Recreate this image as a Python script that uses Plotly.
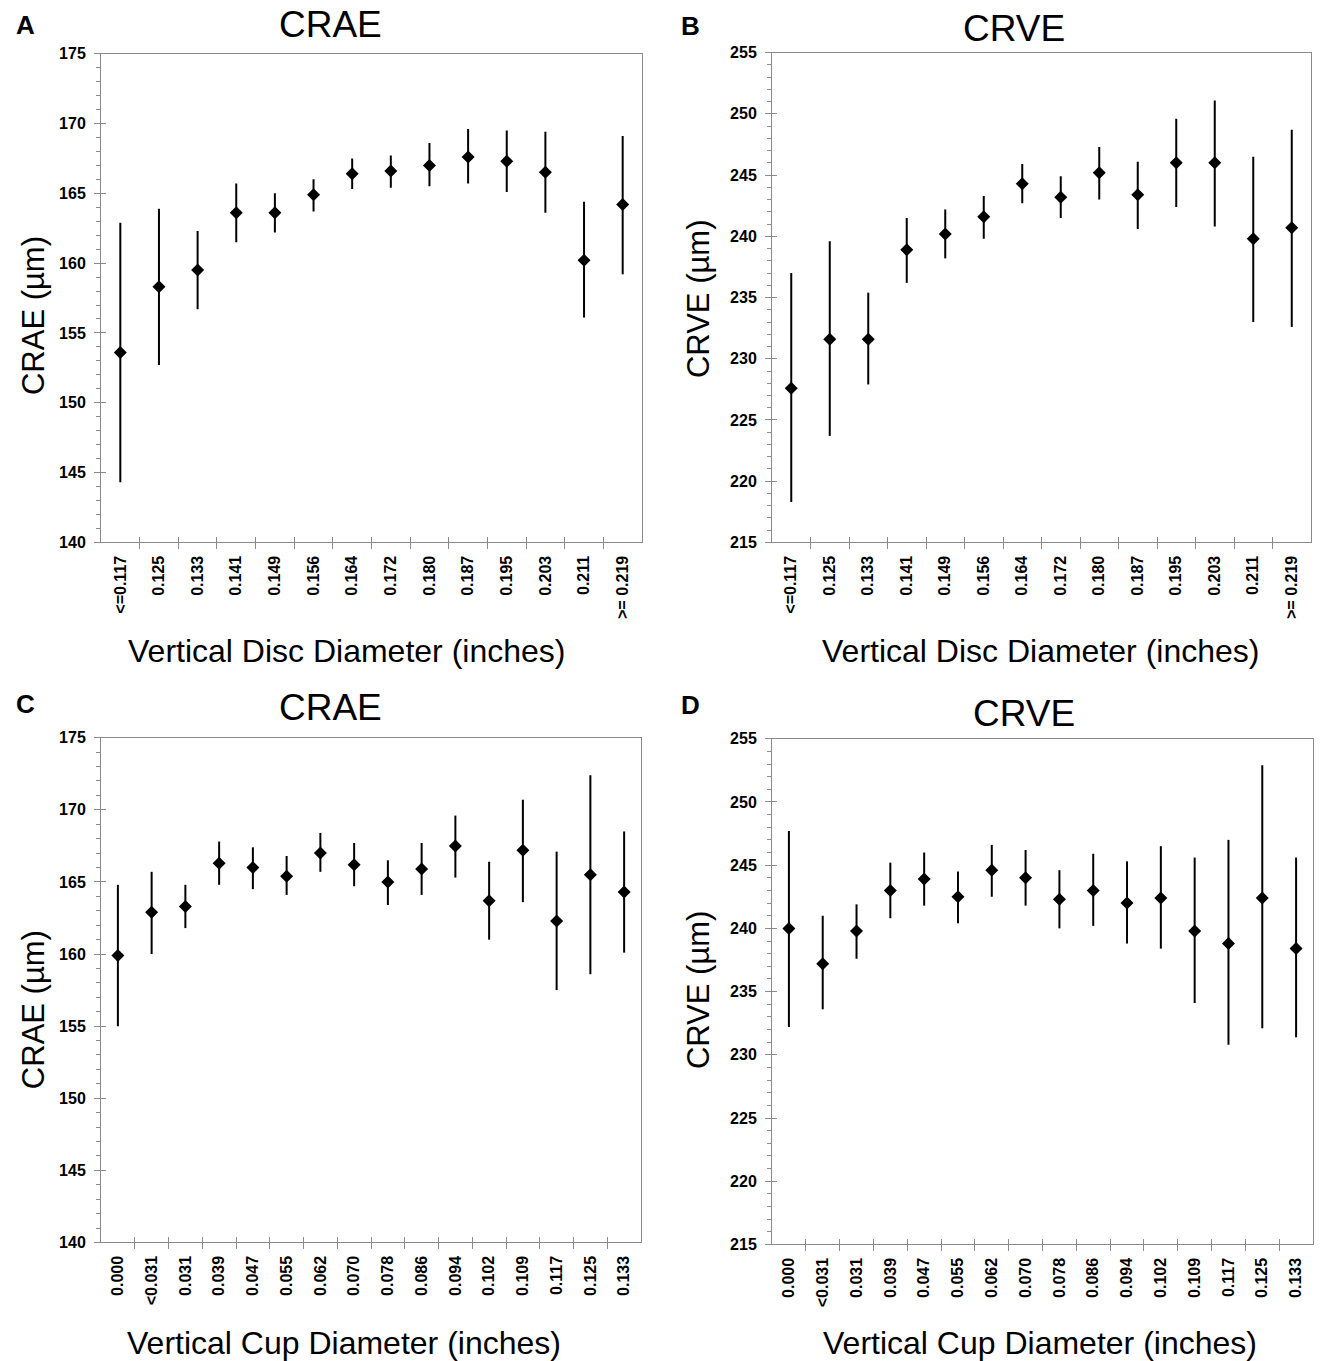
import plotly.graph_objects as go

# ---------------- data ----------------
disc_labels = ["<=0.117", "0.125", "0.133", "0.141", "0.149", "0.156", "0.164",
               "0.172", "0.180", "0.187", "0.195", "0.203", "0.211", ">= 0.219"]
cup_labels = ["0.000", "<0.031", "0.031", "0.039", "0.047", "0.055", "0.062", "0.070",
              "0.078", "0.086", "0.094", "0.102", "0.109", "0.117", "0.125", "0.133"]

# Panel A: CRAE vs vertical disc diameter
crae_disc_mean = [153.6, 158.3, 159.5, 163.6, 163.6, 164.9, 166.4, 166.6, 167.0, 167.6, 167.3, 166.5, 160.2, 164.2]
crae_disc_low = [144.3, 152.7, 156.7, 161.5, 162.2, 163.7, 165.3, 165.4, 165.5, 165.7, 165.1, 163.6, 156.1, 159.2]
crae_disc_high = [162.9, 163.9, 162.3, 165.7, 165.0, 166.0, 167.5, 167.7, 168.6, 169.6, 169.5, 169.4, 164.4, 169.1]

# Panel B: CRVE vs vertical disc diameter
crve_disc_mean = [227.6, 231.6, 231.6, 238.9, 240.2, 241.6, 244.3, 243.2, 245.2, 243.4, 246.0, 246.0, 239.8, 240.7]
crve_disc_low = [218.3, 223.7, 227.9, 236.2, 238.2, 239.8, 242.7, 241.5, 243.0, 240.6, 242.4, 240.8, 233.0, 232.6]
crve_disc_high = [237.0, 239.6, 235.4, 241.5, 242.2, 243.3, 245.9, 244.9, 247.3, 246.1, 249.6, 251.1, 246.5, 248.7]

# Panel C: CRAE vs vertical cup diameter
crae_cup_mean = [159.9, 162.9, 163.3, 166.3, 166.0, 165.4, 167.0, 166.2, 165.0, 165.9, 167.5, 163.7, 167.2, 162.3, 165.5, 164.3]
crae_cup_low = [155.0, 160.0, 161.8, 164.8, 164.5, 164.1, 165.7, 164.7, 163.4, 164.1, 165.3, 161.0, 163.6, 157.5, 158.6, 160.1]
crae_cup_high = [164.8, 165.7, 164.8, 167.8, 167.4, 166.8, 168.4, 167.7, 166.5, 167.7, 169.6, 166.4, 170.7, 167.1, 172.4, 168.5]

# Panel D: CRVE vs vertical cup diameter
crve_cup_mean = [240.0, 237.2, 239.8, 243.0, 243.9, 242.5, 244.6, 244.0, 242.3, 243.0, 242.0, 242.4, 239.8, 238.8, 242.4, 238.4]
crve_cup_low = [232.2, 233.6, 237.6, 240.8, 241.8, 240.4, 242.5, 241.8, 240.0, 240.2, 238.8, 238.4, 234.1, 230.8, 232.1, 231.4]
crve_cup_high = [247.7, 241.0, 241.9, 245.2, 246.0, 244.5, 246.6, 246.2, 244.6, 245.9, 245.3, 246.5, 245.6, 247.0, 252.9, 245.6]

crae_ticks = [140, 145, 150, 155, 160, 165, 170, 175]
crve_ticks = [215, 220, 225, 230, 235, 240, 245, 250, 255]

# ---------------- layout helpers ----------------
W, H = 1324, 1361
FONT = "Liberation Sans, Arial, Helvetica, sans-serif"
GREY = "#8a8a8a"


def fx(p):
    return p / W


def fy(p):
    # map a target page row to paper coordinates (compensates page offset)
    return 1 - ((p - 9.4) / 0.986) / H


panels = [
    # (labels, mean, low, high, yrange, yticks, pixel box (l, t, r, b))
    (disc_labels, crae_disc_mean, crae_disc_low, crae_disc_high, [140, 175], crae_ticks, (101, 55, 642, 543)),
    (disc_labels, crve_disc_mean, crve_disc_low, crve_disc_high, [215, 255], crve_ticks, (772, 54, 1311, 543)),
    (cup_labels, crae_cup_mean, crae_cup_low, crae_cup_high, [140, 175], crae_ticks, (101, 738, 641, 1242)),
    (cup_labels, crve_cup_mean, crve_cup_low, crve_cup_high, [215, 255], crve_ticks, (772, 739, 1313, 1244)),
]

fig = go.Figure()
layout = dict(
    width=W, height=H,
    margin=dict(l=0, r=0, t=0, b=0),
    paper_bgcolor="white", plot_bgcolor="white",
    showlegend=False,
    font=dict(family=FONT, color="black"),
)

for i, (labels, mean, low, high, yr, yt, box) in enumerate(panels):
    k = i + 1
    ko = i + 5
    n = len(labels)
    xs = list(range(n))
    bounds = [j + 0.5 for j in range(n - 1)]
    l, t, r, b = box
    xdom = [fx(l), fx(r)]
    ydom = [fy(b), fy(t)]
    xr = [-0.5, n - 0.5]

    fig.add_trace(go.Scatter(
        x=xs, y=mean, mode="markers",
        marker=dict(symbol="diamond", size=10, color="black"),
        error_y=dict(type="data", symmetric=False,
                     array=[h - m for h, m in zip(high, mean)],
                     arrayminus=[m - lo for m, lo in zip(mean, low)],
                     color="black", thickness=2, width=0),
        xaxis=f"x{k}", yaxis=f"y{k}", hoverinfo="skip",
    ))
    # dummy traces for overlay axes (inner halves of crossing ticks)
    fig.add_trace(go.Scatter(x=[None], y=[None], xaxis=f"x{ko}", yaxis=f"y{k}", hoverinfo="skip"))
    fig.add_trace(go.Scatter(x=[None], y=[None], xaxis=f"x{k}", yaxis=f"y{ko}", hoverinfo="skip"))

    layout[f"xaxis{k}"] = dict(
        domain=xdom, anchor=f"y{k}", range=xr, fixedrange=True,
        tickmode="array", tickvals=xs, ticktext=labels, tickangle=-90,
        ticks="", ticklabelstandoff=6,
        tickfont=dict(family=FONT, size=16, color="black", weight="bold"),
        showline=True, linecolor=GREY, linewidth=1, mirror=True,
        showgrid=False, zeroline=False,
        minor=dict(tickmode="array", tickvals=bounds, ticks="outside",
                   ticklen=6, tickcolor=GREY, tickwidth=1, showgrid=False),
    )
    layout[f"xaxis{ko}"] = dict(
        overlaying=f"x{k}", anchor=f"y{k}", side="bottom", range=xr, fixedrange=True,
        tickmode="array", tickvals=bounds, ticks="inside", ticklen=5,
        tickcolor=GREY, tickwidth=1, showticklabels=False,
        showline=False, showgrid=False, zeroline=False,
    )
    layout[f"yaxis{k}"] = dict(
        domain=ydom, anchor=f"x{k}", range=yr, fixedrange=True,
        tickmode="array", tickvals=yt, ticks="outside", ticklen=6,
        tickcolor=GREY, tickwidth=1, ticklabelstandoff=5,
        tickfont=dict(family=FONT, size=16, color="black", weight="bold"),
        showline=True, linecolor=GREY, linewidth=1, mirror=True,
        showgrid=False, zeroline=False,
        minor=dict(tickmode="linear", tick0=yr[0], dtick=1, ticks="outside",
                   ticklen=4, tickcolor=GREY, tickwidth=1, showgrid=False),
    )
    layout[f"yaxis{ko}"] = dict(
        overlaying=f"y{k}", anchor=f"x{k}", side="left", range=yr, fixedrange=True,
        tickmode="array", tickvals=yt, ticks="inside", ticklen=5,
        tickcolor=GREY, tickwidth=1, showticklabels=False,
        showline=False, showgrid=False, zeroline=False,
    )

fig.update_layout(**layout)

# ---------------- text ----------------
texts = [
    # (text, x_px, y_px, size, bold, angle)
    ("A", 25, 26, 26, True, 0),
    ("B", 690, 27, 26, True, 0),
    ("C", 25, 704, 26, True, 0),
    ("D", 691, 705, 26, True, 0),
    ("CRAE", 330, 26, 37, False, 0),
    ("CRVE", 1014, 30, 37, False, 0),
    ("CRAE", 330, 708, 37, False, 0),
    ("CRVE", 1024, 714, 37, False, 0),
    ("Vertical Disc Diameter (inches)", 346, 651, 32, False, 0),
    ("Vertical Disc Diameter (inches)", 1040, 651, 32, False, 0),
    ("Vertical Cup Diameter (inches)", 344, 1342, 32, False, 0),
    ("Vertical Cup Diameter (inches)", 1040, 1342, 32, False, 0),
    ("CRAE (µm)", 33, 317, 31, False, -90),
    ("CRVE (µm)", 698, 300, 31, False, -90),
    ("CRAE (µm)", 33, 1010, 31, False, -90),
    ("CRVE (µm)", 698, 990, 31, False, -90),
]
for txt, x, y, size, bold, ang in texts:
    fig.add_annotation(
        text=txt, x=fx(x), y=fy(y), xref="paper", yref="paper",
        xanchor="center", yanchor="middle", showarrow=False, textangle=ang,
        font=dict(family=FONT, size=size, color="black", weight="bold" if bold else "normal"),
    )

fig.write_html("out.html", config={"displayModeBar": False},
               post_script="document.body.style.margin='0';")
